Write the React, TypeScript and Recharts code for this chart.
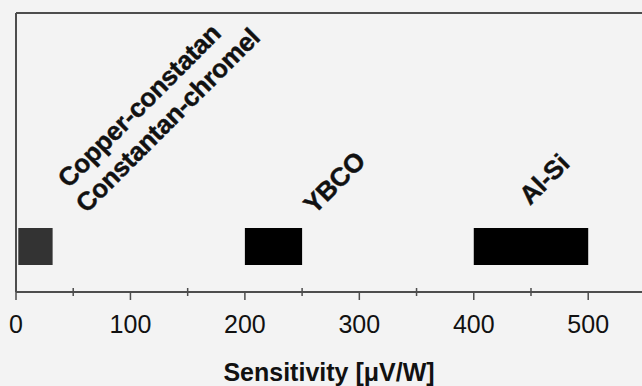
import React from 'react';
import { BarChart, Bar, XAxis, YAxis } from 'recharts';

// one row holds every sensor range
const categories = ['sensors'];
const copperRange: [number, number] = [2, 32];
const ybcoRange: [number, number] = [200, 250];
const alSiRange: [number, number] = [400, 500];
const copperLabels = ['Copper-constatan', 'Constantan-chromel'];
const ybcoLabels = ['YBCO'];
const alSiLabels = ['Al-Si'];
const xTicks = [0, 50, 100, 150, 200, 250, 300, 350, 400, 450, 500];
const xMax = 547;

const data = categories.map((name) => ({
    name,
    copper: copperRange,
    ybco: ybcoRange,
    alsi: alSiRange,
}));

const FONT = '"Liberation Sans", Arial, Helvetica, sans-serif';
const AXIS = '#4d4d4d';

// text start offsets from the bar's top centre, one per label line
const renderLabels = (lines: string[], offsets: [number, number][]) => (props: any) => {
    const { x, y, width } = props;
    const cx = Number(x) + Number(width) / 2;
    const top = Number(y);
    return (
        <g>
            {lines.map((line, i) => {
                const tx = cx + offsets[i][0];
                const ty = top + offsets[i][1];
                return (
                    <text
                        key={line}
                        x={tx}
                        y={ty}
                        transform={`rotate(-45 ${tx} ${ty})`}
                        fontFamily={FONT}
                        fontWeight="bold"
                        fontSize={26}
                        letterSpacing={-0.3}
                        stroke="#111"
                        strokeWidth={0.4}
                        fill="#111"
                    >
                        {line}
                    </text>
                );
            })}
        </g>
    );
};

const SensitivityTick = (props: any) => {
    const { x, y, payload } = props;
    const major = payload.value % 100 === 0;
    return (
        <g>
            <line
                x1={x}
                x2={x}
                y1={major ? y : y - 4}
                y2={major ? y + 8 : y + 4}
                stroke={AXIS}
                strokeWidth={1.5}
            />
            {major && (
                <text x={x} y={y + 41} textAnchor="middle" fontFamily={FONT} fontSize={25} fill="#111">
                    {payload.value}
                </text>
            )}
        </g>
    );
};

export default function App() {
    return (
        <div style={{ position: 'absolute', left: 0, top: 0, width: 642, height: 386, background: '#f3f3f3' }}>
            <BarChart
                width={642}
                height={386}
                data={data}
                layout="vertical"
                margin={{ top: 12, right: 0, left: 15, bottom: 0 }}
                barGap={-37}
            >
                <XAxis
                    type="number"
                    domain={[0, xMax]}
                    ticks={xTicks}
                    interval={0}
                    allowDataOverflow
                    height={94}
                    tickSize={0}
                    tickMargin={0}
                    tickLine={false}
                    tick={<SensitivityTick />}
                    axisLine={{ stroke: AXIS, strokeWidth: 2 }}
                    label={(p: any) => {
                        const vb = p.viewBox || {};
                        return (
                            <text
                                x={vb.x + vb.width / 2}
                                y={vb.y + 89}
                                textAnchor="middle"
                                fontFamily={FONT}
                                fontWeight="bold"
                                fontSize={25}
                                fill="#111"
                            >
                                Sensitivity [μV/W]
                            </text>
                        );
                    }}
                />
                <XAxis
                    xAxisId="top"
                    orientation="top"
                    type="number"
                    domain={[0, xMax]}
                    height={1}
                    tick={false}
                    tickLine={false}
                    axisLine={{ stroke: AXIS, strokeWidth: 2 }}
                />
                <YAxis
                    type="category"
                    dataKey="name"
                    width={1}
                    tick={false}
                    tickLine={false}
                    axisLine={{ stroke: AXIS, strokeWidth: 2 }}
                    padding={{ top: 214, bottom: 27 }}
                />
                <Bar
                    dataKey="copper"
                    fill="#333333"
                    barSize={37}
                    isAnimationActive={false}
                    label={renderLabels(copperLabels, [[33, -39], [51, -14]])}
                />
                <Bar
                    dataKey="ybco"
                    fill="#000000"
                    barSize={37}
                    isAnimationActive={false}
                    label={renderLabels(ybcoLabels, [[41, -13]])}
                />
                <Bar
                    dataKey="alsi"
                    fill="#000000"
                    barSize={37}
                    isAnimationActive={false}
                    label={renderLabels(alSiLabels, [[-1, -22]])}
                />
            </BarChart>
        </div>
    );
}
